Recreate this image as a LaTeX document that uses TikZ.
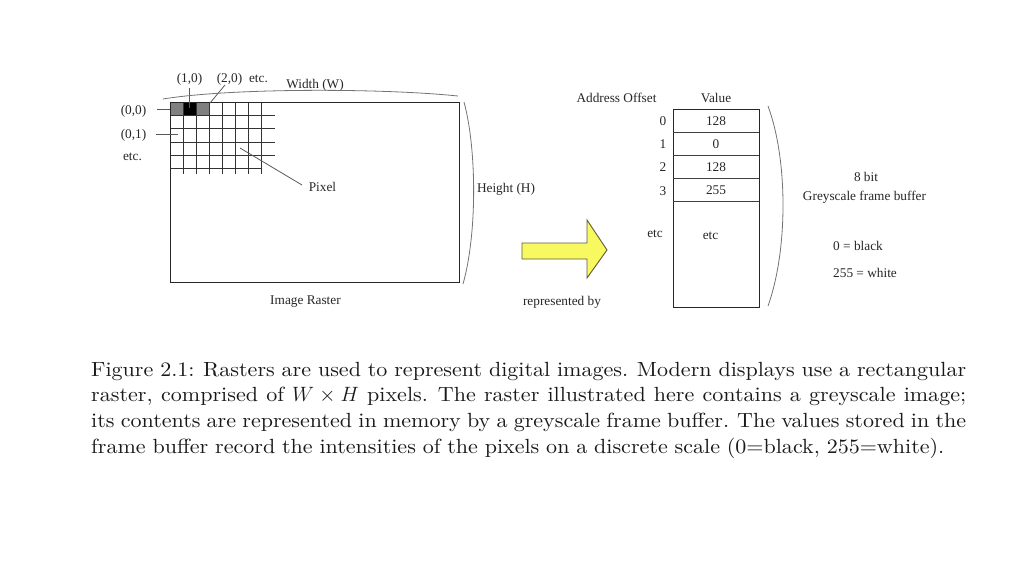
\documentclass[tikz,border=0pt]{standalone}
\usepackage{fontspec}
\newfontfamily\tnr{Liberation Serif}
\newfontfamily\capfont[Extension=.otf, FakeStretch=1.075]{lmroman10-regular}
\newcommand{\capline}[1]{\makebox[875pt][s]{\spaceskip=.333em plus .3em minus .2em\xspaceskip=.42em plus .3em minus .2em #1}}
\tikzset{
  lbl/.style={font=\tnr\fontsize{13.3}{15}\selectfont, inner sep=0pt, text=black!85},
  frame/.style={draw=black!85, line width=1.4pt},
  grid line/.style={draw=black!80, line width=1pt},
  leader/.style={draw=black!65, line width=0.8pt},
  brace line/.style={draw=black!55, line width=0.8pt},
}
\begin{document}
\begin{tikzpicture}[x=1pt,y=-1pt]
\useasboundingbox (0,0) rectangle (1024,576);
% ---------- raster ----------
\fill[black!50] (170,102) rectangle (183,115);
\fill[black] (183,102) rectangle (196,115);
\fill[black!50] (196,102) rectangle (209,115);
\foreach \x in {183,196,209,222,235,248,261}
  \draw[grid line] (\x,102) -- (\x,174);
\foreach \y in {115,128,142,155}
  \draw[grid line] (170,\y) -- (275,\y);
\draw[grid line] (170,168) -- (262,168);
\node[frame, minimum width=289pt, minimum height=180pt, inner sep=0pt, anchor=north west] (raster) at (170,102) {};
% labels on raster
\node[lbl] (l10) at (189.5,79) {(1,0)};
\node[lbl] (l20) at (229.5,79) {(2,0)};
\node[lbl] (letc) at (258.5,79) {etc.};
\node[lbl] (width) at (315,85) {Width (W)};
\node[lbl] (l00) at (133.5,111) {(0,0)};
\node[lbl] (l01) at (133.5,135) {(0,1)};
\node[lbl] (lretc) at (132.5,157) {etc.};
\node[lbl] (pixel) at (322.5,187) {Pixel};
\node[lbl] (height) at (506,189) {Height (H)};
\node[lbl] (imgr) at (305.5,302) {Image Raster};
\coordinate (t10a) at (189,88); \coordinate (t10b) at (189,108);
\coordinate (t20a) at (225,85); \coordinate (t20b) at (210,103);
\coordinate (t00a) at (157,109); \coordinate (t00b) at (170,109);
\coordinate (t01a) at (156,134); \coordinate (t01b) at (178,134);
\coordinate (pxa) at (302,185); \coordinate (pxb) at (240,148);
\draw[leader] (t10a) -- (t10b);
\draw[leader] (t20a) -- (t20b);
\draw[leader] (t00a) -- (t00b);
\draw[leader] (t01a) -- (t01b);
\draw[leader] (pxa) -- (pxb);
% width and height braces
\coordinate (wa) at (163,99); \coordinate (wb) at (458,96);
\draw[brace line] (wa) .. controls (230,88) and (380,88) .. (wb);
\coordinate (ha) at (464,102); \coordinate (hb) at (463,284);
\draw[brace line] (ha) .. controls (477,150) and (477,235) .. (hb);
% ---------- arrow ----------
\draw[fill={rgb,255:red,248;green,248;blue,96}, draw={rgb,255:red,90;green,90;blue,60}, line width=0.9pt]
  (522,243) -- (587,243) -- (587,220) -- (607,250) -- (587,278) -- (587,259) -- (522,259) -- cycle;
\node[lbl] (repby) at (562,302) {represented by};
% ---------- frame buffer ----------
\node[lbl] (addr) at (616.5,98) {Address Offset};
\node[lbl] (valh) at (716,98) {Value};
\node[frame, minimum width=86pt, minimum height=198pt, inner sep=0pt, anchor=north west] (buf) at (673,109) {};
\foreach \y in {132,155,178,201}
  \draw[draw=black!75, line width=1pt] (673,\y) -- (759,\y);
\node[lbl] (v0) at (716,121) {128};
\node[lbl] (v1) at (716,144) {0};
\node[lbl] (v2) at (716,167) {128};
\node[lbl] (v3) at (716,190) {255};
\node[lbl] (o0) at (663,121) {0};
\node[lbl] (o1) at (663,144) {1};
\node[lbl] (o2) at (663,167) {2};
\node[lbl] (o3) at (663,191) {3};
\node[lbl] (oetc) at (655,234) {etc};
\node[lbl] (vetc) at (710.5,236) {etc};
\coordinate (ba) at (768,106); \coordinate (bb) at (768,306);
\draw[brace line] (ba) .. controls (788,160) and (788,250) .. (bb);
\node[lbl] (bit) at (866,177) {8 bit};
\node[lbl] (gfb) at (864.5,197) {Greyscale frame buffer};
\node[lbl, anchor=west] (blk) at (833,246) {0 = black};
\node[lbl, anchor=west] (wht) at (833,273) {255 = white};
% ---------- caption ----------
\node[anchor=base west, inner sep=0pt, text width=875pt, align=left,
      font=\capfont\fontsize{20.5}{25.7}\selectfont, text=black!90] (cap) at (91,376)
{\capline{Figure 2.1: Rasters are used to represent digital images. Modern displays use a rectangular}\\
\capline{raster, comprised of $W \times H$ pixels. The raster illustrated here contains a greyscale image;}\\
\capline{its contents are represented in memory by a greyscale frame buffer. The values stored in the}\\
\mbox{frame buffer record the intensities of the pixels on a discrete scale (0=black, 255=white).}};
\end{tikzpicture}
\end{document}
